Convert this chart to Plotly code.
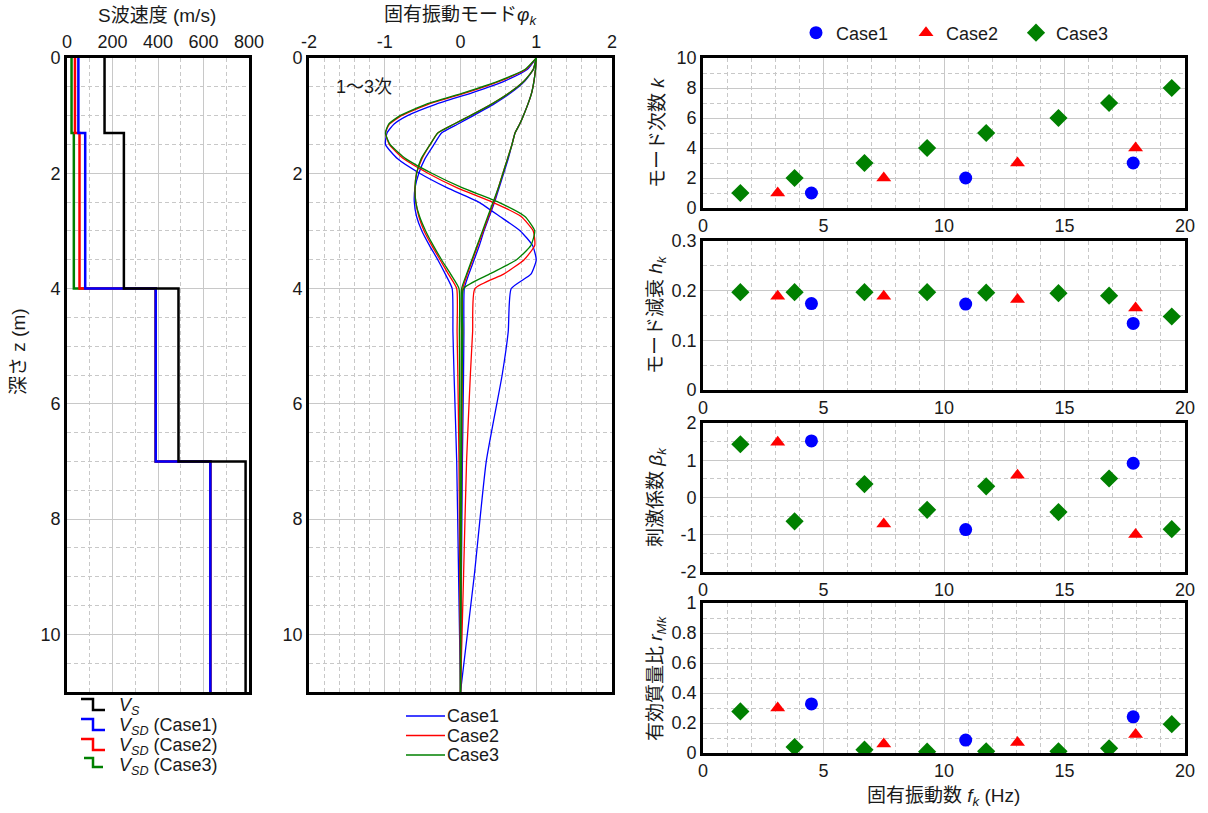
import plotly.graph_objects as go

W, H = 1208, 813
FONT = "Arial, 'Liberation Sans', 'Noto Sans CJK JP', sans-serif"
TXT = "#1a1a1a"

# ---------------- left panel: S-wave velocity profile ----------------
layer_depth = [0.0, 1.3, 4.0, 7.0, 11.0]
vs = [165, 250, 490, 785]
vsd_case1 = [50, 80, 390, 630]
vsd_case2 = [35, 55, 390, 630]
vsd_case3 = [20, 30, 390, 630]

# ---------------- middle panel: mode shapes (modes 1-3) ----------------
z_phi = [0, 0.2, 0.4, 0.6, 0.8, 1.0, 1.15, 1.3, 1.5, 1.75, 2.0, 2.25, 2.5, 2.75,
         3.0, 3.25, 3.5, 3.75, 4.0, 4.75, 5.5, 7.0, 9.0, 11.0]
phi1_case1 = [1.0, 0.99, 0.97, 0.94, 0.89, 0.83, 0.78, 0.72, 0.68, 0.63, 0.57, 0.51, 0.45, 0.38,
              0.31, 0.25, 0.18, 0.11, 0.05, 0.045, 0.04, 0.025, 0.012, 0.0]
phi1_case2 = [1.0, 0.99, 0.97, 0.94, 0.89, 0.83, 0.78, 0.72, 0.68, 0.62, 0.56, 0.50, 0.44, 0.37,
              0.30, 0.23, 0.16, 0.09, 0.03, 0.027, 0.024, 0.015, 0.008, 0.0]
phi1_case3 = [1.0, 0.99, 0.97, 0.94, 0.89, 0.83, 0.78, 0.72, 0.68, 0.62, 0.56, 0.50, 0.43, 0.36,
              0.29, 0.22, 0.15, 0.08, 0.015, 0.013, 0.012, 0.008, 0.004, 0.0]
phi2_case1 = [1.0, 0.96, 0.85, 0.67, 0.44, 0.17, -0.04, -0.25, -0.35, -0.47, -0.55, -0.60, -0.61, -0.58,
              -0.51, -0.41, -0.30, -0.20, -0.11, -0.10, -0.085, -0.05, -0.025, 0.0]
phi2_case2 = [1.0, 0.96, 0.84, 0.65, 0.41, 0.13, -0.09, -0.30, -0.40, -0.51, -0.58, -0.60, -0.59, -0.55,
              -0.48, -0.38, -0.27, -0.16, -0.05, -0.045, -0.035, -0.02, -0.01, 0.0]
phi2_case3 = [1.0, 0.96, 0.84, 0.65, 0.41, 0.13, -0.09, -0.30, -0.40, -0.52, -0.58, -0.60, -0.59, -0.54,
              -0.46, -0.36, -0.25, -0.13, -0.02, -0.015, -0.012, -0.007, -0.003, 0.0]
phi3_case1 = [1.0, 0.88, 0.58, 0.16, -0.32, -0.70, -0.88, -0.97, -0.99, -0.83, -0.54, -0.18, 0.24, 0.52,
              0.79, 0.95, 1.0, 0.93, 0.67, 0.63, 0.55, 0.34, 0.18, 0.0]
phi3_case2 = [1.0, 0.86, 0.52, 0.08, -0.42, -0.78, -0.94, -0.99, -0.94, -0.75, -0.43, -0.05, 0.42, 0.80,
              0.96, 0.98, 0.84, 0.57, 0.19, 0.16, 0.13, 0.08, 0.04, 0.0]
phi3_case3 = [1.0, 0.85, 0.50, 0.05, -0.45, -0.80, -0.95, -0.99, -0.93, -0.72, -0.38, 0.02, 0.50, 0.85,
              0.98, 0.93, 0.74, 0.38, 0.04, 0.03, 0.02, 0.01, 0.005, 0.0]

# ---------------- right panels: modal properties ----------------
f_case1 = [4.5, 10.9, 17.85]
f_case2 = [3.1, 7.5, 13.05, 17.95]
f_case3 = [1.55, 3.8, 6.7, 9.3, 11.75, 14.75, 16.85, 19.45]
k_case1 = [1, 2, 3]
k_case2 = [1, 2, 3, 4]
k_case3 = [1, 2, 3, 4, 5, 6, 7, 8]
h_case1 = [0.174, 0.173, 0.134]
h_case2 = [0.189, 0.189, 0.182, 0.165]
h_case3 = [0.197, 0.197, 0.197, 0.197, 0.196, 0.195, 0.190, 0.148]
beta_case1 = [1.52, -0.86, 0.92]
beta_case2 = [1.48, -0.71, 0.60, -0.99]
beta_case3 = [1.43, -0.64, 0.36, -0.33, 0.30, -0.39, 0.51, -0.85]
rm_case1 = [0.327, 0.086, 0.241]
rm_case2 = [0.30, 0.06, 0.07, 0.124]
rm_case3 = [0.277, 0.04, 0.022, 0.009, 0.011, 0.011, 0.031, 0.192]

left_legend_labels = ["<i>V</i><sub><i>S</i></sub>",
                      "<i>V</i><sub><i>SD</i></sub> (Case1)",
                      "<i>V</i><sub><i>SD</i></sub> (Case2)",
                      "<i>V</i><sub><i>SD</i></sub> (Case3)"]
mode_legend_labels = ["Case1", "Case2", "Case3"]

BLUE, RED, GREEN, BLACK = "#0000ff", "#ff0000", "#008000", "#000000"

fig = go.Figure()


def px_x(p):
    return p / W


def px_y(p):
    return 1 - p / H


# left panel traces (green, red, blue, black so that black lies on top)
for vals, col in [(vsd_case3, GREEN), (vsd_case2, RED), (vsd_case1, BLUE), (vs, BLACK)]:
    fig.add_trace(go.Scatter(x=list(vals) + [vals[-1]], y=layer_depth, mode="lines",
                             line=dict(color=col, width=2.5, shape="vh"),
                             showlegend=False, xaxis="x", yaxis="y", hoverinfo="skip"))

# middle panel
for phis, col in [((phi1_case1, phi2_case1, phi3_case1), BLUE),
                  ((phi1_case2, phi2_case2, phi3_case2), RED),
                  ((phi1_case3, phi2_case3, phi3_case3), GREEN)]:
    for ph in phis:
        fig.add_trace(go.Scatter(x=ph, y=z_phi, mode="lines",
                                 line=dict(color=col, width=1.3, shape="spline", smoothing=0.5),
                                 showlegend=False, xaxis="x2", yaxis="y2", hoverinfo="skip"))

# right panels
series = [
    (f_case1, [k_case1, h_case1, beta_case1, rm_case1], BLUE, "circle", 13, "Case1"),
    (f_case2, [k_case2, h_case2, beta_case2, rm_case2], RED, "triangle-up", 13, "Case2"),
    (f_case3, [k_case3, h_case3, beta_case3, rm_case3], GREEN, "diamond", 14, "Case3"),
]
for f, ys_list, col, sym, sz, name in series:
    for j, yv in enumerate(ys_list):
        fig.add_trace(go.Scatter(x=f, y=yv, mode="markers",
                                 marker=dict(color=col, symbol=sym, size=sz, line=dict(width=0)),
                                 name=name, legend="legend", showlegend=(j == 0), legendgroup="r" + name,
                                 xaxis="x%d" % (3 + j), yaxis="y%d" % (3 + j)))

GRID = "#c8c8c8"


def axis(domain, rng, dtick, minor, anchor, side=None, tickvals=None, ticktext=None):
    d = dict(domain=domain, range=rng, dtick=dtick, anchor=anchor, automargin=False,
             showline=True, linecolor="black", linewidth=2.7, mirror=True,
             showgrid=True, gridcolor=GRID, gridwidth=1, zeroline=False, ticks="",
             tickfont=dict(size=18, color=TXT, family=FONT),
             minor=dict(dtick=minor, showgrid=True, gridcolor=GRID, griddash="4px,3px", gridwidth=1),
             fixedrange=True)
    if side:
        d["side"] = side
    if tickvals is not None:
        d["tickvals"] = tickvals
        d["ticktext"] = ticktext
        d["tickmode"] = "array"
    return d


L_x = [px_x(67), px_x(249)]
M_x = [px_x(309), px_x(612)]
R_x = [px_x(703), px_x(1185)]
LM_y = [px_y(692), px_y(58)]
P_y = [[px_y(208), px_y(58)], [px_y(390), px_y(241)], [px_y(572), px_y(423)], [px_y(753), px_y(603)]]

fig.update_layout(
    width=W, height=H, margin=dict(l=0, r=0, t=0, b=0, autoexpand=False),
    paper_bgcolor="white", plot_bgcolor="white",
    font=dict(family=FONT, size=18, color=TXT),
    showlegend=True,
    xaxis=axis(L_x, [0, 800], 200, 100, "y", side="top"),
    yaxis=axis(LM_y, [11, 0], 2, 0.5, "x"),
    xaxis2=axis(M_x, [-2, 2], 1, 0.2, "y2", side="top",
                tickvals=[-2, -1, 0, 1, 2], ticktext=["-2", "-1", "0", "1", "2"]),
    yaxis2=axis(LM_y, [11, 0], 2, 0.5, "x2"),
    xaxis3=axis(R_x, [0, 20], 5, 1, "y3"),
    yaxis3=axis(P_y[0], [0, 10], 2, 1, "x3"),
    xaxis4=axis(R_x, [0, 20], 5, 1, "y4"),
    yaxis4=axis(P_y[1], [0, 0.3], 0.1, 0.05, "x4"),
    xaxis5=axis(R_x, [0, 20], 5, 1, "y5"),
    yaxis5=axis(P_y[2], [-2, 2], 1, 0.5, "x5",
                tickvals=[-2, -1, 0, 1, 2], ticktext=["-2", "-1", "0", "1", "2"]),
    xaxis6=axis(R_x, [0, 20], 5, 1, "y6"),
    yaxis6=axis(P_y[3], [0, 1], 0.2, 0.1, "x6"),
    legend=dict(x=px_x(796), y=px_y(33), xanchor="left", yanchor="middle", orientation="h",
                font=dict(size=18, color=TXT, family=FONT), bgcolor="rgba(0,0,0,0)",
                traceorder="normal", entrywidth=65, entrywidthmode="pixels"),
)

annotations = []
shapes = []
ann = [
    dict(text="S波速度 (m/s)", x=px_x(157), y=px_y(16)),
    dict(text="固有振動モード<i>φ<sub>k</sub></i>", x=px_x(460), y=px_y(16)),
    dict(text="深さ z (m)", x=px_x(18), y=px_y(352), textangle=-90),
    dict(text="モード次数 <i>k</i>", x=px_x(657), y=px_y(133), textangle=-90),
    dict(text="モード減衰 <i>h<sub>k</sub></i>", x=px_x(657), y=px_y(315), textangle=-90),
    dict(text="刺激係数 <i>β<sub>k</sub></i>", x=px_x(657), y=px_y(497), textangle=-90),
    dict(text="有効質量比 <i>r<sub>Mk</sub></i>", x=px_x(657), y=px_y(678), textangle=-90),
    dict(text="固有振動数 <i>f<sub>k</sub></i> (Hz)", x=px_x(943), y=px_y(797)),
]
for a in ann:
    a.update(xref="paper", yref="paper", showarrow=False, xanchor="center", yanchor="middle",
             font=dict(size=19, color=TXT, family=FONT))
    annotations.append(a)
annotations.append(dict(text="1〜3次", x=-1.28, y=0.5, xref="x2", yref="y2", showarrow=False,
                        font=dict(size=18, color=TXT, family=FONT)))

# left-panel legend: step icons + labels
left_cols = [BLACK, BLUE, RED, GREEN]
for i, (lab, col) in enumerate(zip(left_legend_labels, left_cols)):
    yc = 706 + 20 * i
    if i < 3:
        x0, xm, x1, ya, yb = 81, 93, 105, yc - 7, yc + 4
    else:
        x0, xm, x1, ya, yb = 84, 93, 103, yc - 8, yc + 1
    shapes.append(dict(type="path", xref="paper", yref="paper",
                       path="M %f %f L %f %f L %f %f L %f %f" % (px_x(x0), px_y(ya), px_x(xm), px_y(ya),
                                                                 px_x(xm), px_y(yb), px_x(x1), px_y(yb)),
                       line=dict(color=col, width=2.5)))
    annotations.append(dict(text=lab, x=px_x(117), y=px_y(yc), xref="paper", yref="paper",
                            showarrow=False, xanchor="left", yanchor="middle",
                            font=dict(size=18, color=TXT, family=FONT)))

# middle-panel legend: line icons + labels
mid_cols = [BLUE, RED, GREEN]
for i, (lab, col) in enumerate(zip(mode_legend_labels, mid_cols)):
    yc = 716 + 19.5 * i
    shapes.append(dict(type="line", xref="paper", yref="paper", x0=px_x(406), x1=px_x(445),
                       y0=px_y(yc), y1=px_y(yc), line=dict(color=col, width=1.5)))
    annotations.append(dict(text=lab, x=px_x(445), y=px_y(yc), xref="paper", yref="paper",
                            showarrow=False, xanchor="left", yanchor="middle",
                            font=dict(size=18, color=TXT, family=FONT)))

fig.update_layout(annotations=annotations, shapes=shapes)

fig.write_html("out.html")
